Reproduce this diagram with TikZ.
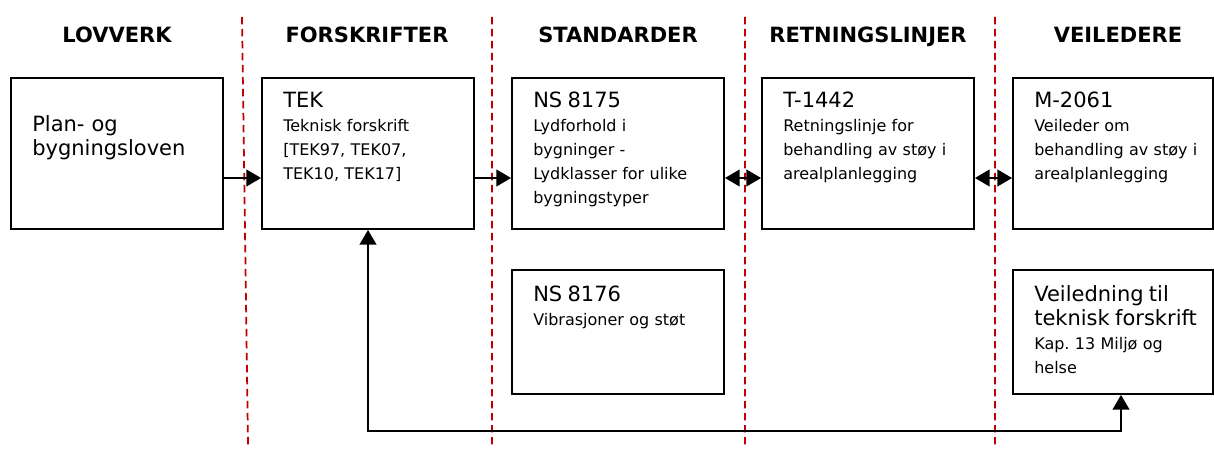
\documentclass[tikz,border=0pt]{standalone}
\usepackage{fontspec}
\setmainfont{DejaVu Sans}
\usetikzlibrary{arrows.meta}
\frenchspacing

\definecolor{sepred}{RGB}{192,0,0}
\newcommand{\bigtxt}{\fontsize{15.75}{18}\selectfont}
\newcommand{\smalltxt}{\fontsize{12}{18}\selectfont}

\begin{document}
\begin{tikzpicture}[x = 0.75pt, y = -0.75pt,
        box/.style = {draw, line width = 1.4pt, inner sep = 0pt, minimum width = 159pt, minimum height = 113.25pt},
        lowbox/.style = {box, minimum height = 93pt},
        txt/.style = {anchor = base west, align = left, inner sep = 0pt, text width = 140pt, font = \smalltxt},
        head/.style = {anchor = base, font = \bfseries\bigtxt},
        link/.style = {line width = 1.4pt, {Triangle[length = 11pt, width = 12.5pt]}-{Triangle[length = 11pt, width = 12.5pt]}},
        onelink/.style = {line width = 1.4pt, -{Triangle[length = 11pt, width = 12.5pt]}},
        sep/.style = {sepred, line width = 1.3pt, dash pattern = on 5.5pt off 3.5pt}
    ]
    \useasboundingbox (0, 0) rectangle (1214, 449);

    % column separators
    \draw[sep]
        (242, 17) -- (248, 445)
        (492, 17) -- (492, 445)
        (745, 17) -- (745, 445)
        (995, 17) -- (995, 445)
    ;

    % column headings
    \node (hlov) [head] at (117, 43) {LOVVERK};
    \node (hfor) [head] at (367, 43) {FORSKRIFTER};
    \node (hstd) [head] at (618, 43) {STANDARDER};
    \node (hret) [head] at (868, 43) {RETNINGSLINJER};
    \node (hvei) [head] at (1118, 43) {VEILEDERE};

    % boxes
    \node (lov) [box] at (117, 153.5) {};
    \node (tek) [box] at (368, 153.5) {};
    \node (ns75) [box] at (618, 153.5) {};
    \node (t1442) [box] at (868, 153.5) {};
    \node (m2061) [box, minimum width = 150pt] at (1113, 153.5) {};
    \node (ns76) [lowbox] at (618, 332) {};
    \node (veil) [lowbox, minimum width = 150pt] at (1113, 332) {};

    % box texts
    \node (lovtxt) [txt, font = \bigtxt] at (32, 132) {Plan- og\\bygningsloven};
    \node (tektxt) [txt] at (283, 108) {\bigtxt TEK\\\smalltxt Teknisk forskrift\\{[TEK97, TEK07,}\\TEK10, TEK17]};
    \node (ns75txt) [txt] at (533, 108) {\bigtxt NS 8175\\\smalltxt Lydforhold i\\bygninger -\\Lydklasser for ulike\\bygningstyper};
    \node (t1442txt) [txt] at (783, 108) {\bigtxt T-1442\\\smalltxt Retningslinje for\\behandling av støy i\\arealplanlegging};
    \node (m2061txt) [txt] at (1034, 108) {\bigtxt M-2061\\\smalltxt Veileder om\\behandling av støy i\\arealplanlegging};
    \node (ns76txt) [txt] at (533, 301) {\bigtxt NS 8176\\\smalltxt Vibrasjoner og støt};
    \node (veiltxt) [txt] at (1034, 301) {\bigtxt Veiledning til\\teknisk forskrift\\\smalltxt Kap. 13 Miljø og\\helse};

    % connectors
    \coordinate (arow) at (0, 178);
    \coordinate (bus) at (0, 431);
    \draw[onelink] (lov.east |- arow) -- (tek.west |- arow);
    \draw[onelink] (tek.east |- arow) -- (ns75.west |- arow);
    \draw[link] (ns75.east |- arow) -- (t1442.west |- arow);
    \draw[link] (t1442.east |- arow) -- (m2061.west |- arow);
    \draw[link] (tek.south) -- (tek.south |- bus) -| ([xshift = 6pt]veil.south);
\end{tikzpicture}
\end{document}
